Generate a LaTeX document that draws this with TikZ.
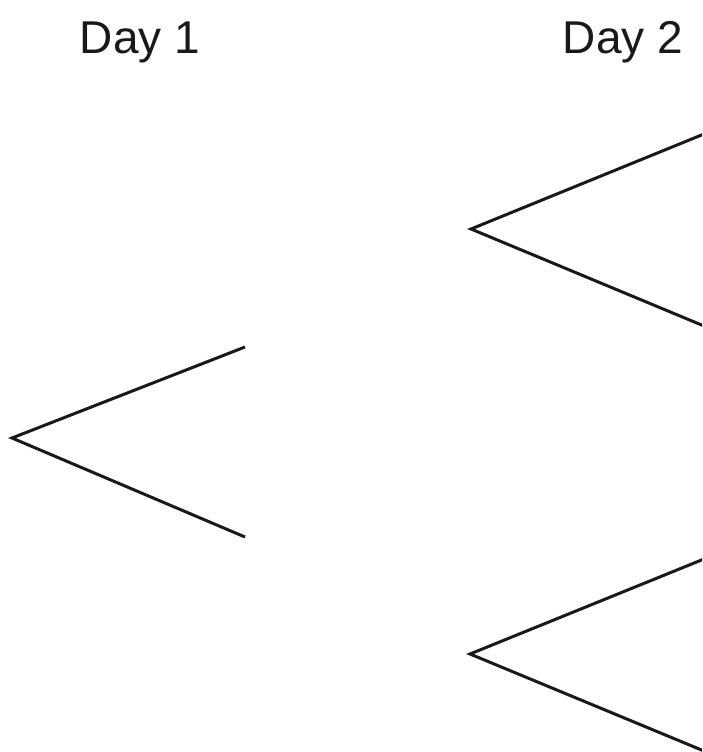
\documentclass[tikz,border=0pt]{standalone}
\usepackage{fontspec}
\setmainfont{Liberation Sans}
\begin{document}
\begin{tikzpicture}[x=1pt,y=-1pt,
  branch/.style={line width=3pt,draw=black!90,line join=miter},
  daylabel/.style={font=\fontsize{46}{46}\selectfont,text=black!90,inner sep=0pt,anchor=base}]
\useasboundingbox (0,0) rectangle (702,752);
\clip (0,0) rectangle (702,752);
\node[daylabel] (d1) at (140,54) {Day 1};
\node[daylabel] (d2) at (623,54) {Day 2};
% Day 1 branch
\coordinate (a1) at (12,438);
\coordinate (a1u) at (245,347);
\coordinate (a1l) at (245,537);
% Day 2 upper branch
\coordinate (b1) at (471,229);
\coordinate (b1u) at (704,134);
\coordinate (b1l) at (704,326);
% Day 2 lower branch
\coordinate (c1) at (470,654);
\coordinate (c1u) at (704,559);
\coordinate (c1l) at (704,751);
\draw[branch] (a1u) -- (a1) -- (a1l);
\draw[branch] (b1u) -- (b1) -- (b1l);
\draw[branch] (c1u) -- (c1) -- (c1l);
\end{tikzpicture}
\end{document}
